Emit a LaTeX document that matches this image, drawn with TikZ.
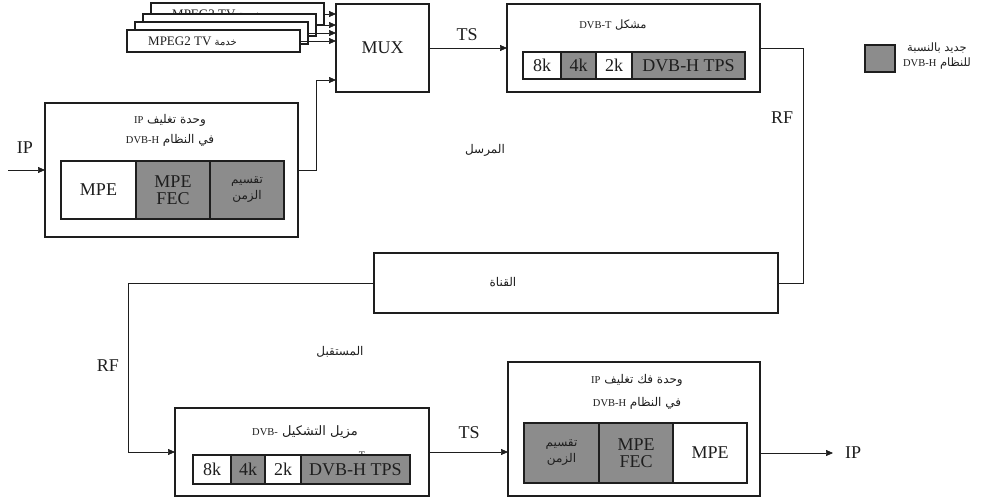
\documentclass[tikz,border=0pt]{standalone}
\usepackage{fontspec}
\setmainfont{Liberation Serif}
\newfontfamily\arabicfont[Script=Arabic]{DejaVu Sans}
\TeXXeTstate=1
\usetikzlibrary{arrows.meta,calc}
\definecolor{newgray}{HTML}{8C8C8C}
\definecolor{ink}{HTML}{1E1E1E}
\newcommand\mylat[1]{\beginL{\rmfamily\fontsize{10.5}{12}\selectfont #1}\endL}
\newcommand\mpegtxt{\beginR{\arabicfont\fontsize{10}{12}\selectfont خدمة}\ \beginL MPEG2 TV\endL\endR}
\begin{document}
\begin{tikzpicture}[x=1pt,y=-1pt,
  box/.style={draw=ink,line width=1.6pt,fill=white,inner sep=0pt,outer sep=0pt},
  cellw/.style={box,fill=white,font=\fontsize{18}{17}\selectfont,text=ink,align=center},
  cellg/.style={box,fill=newgray,font=\fontsize{18}{17}\selectfont,text=ink,align=center},
  wire/.style={draw=ink,line width=0.7pt},
  arr/.style={wire,-{Triangle[length=7pt,width=6pt]}},
  big/.style={font=\fontsize{18}{18}\selectfont,text=ink,inner sep=0pt},
  mpeg/.style={font=\fontsize{13}{13}\selectfont,text=ink,inner sep=0pt},
  ar/.style={font=\arabicfont\fontsize{12}{20}\selectfont,text=ink,align=center,inner sep=0pt},
  arc/.style={font=\arabicfont\fontsize{12}{16}\selectfont,align=center},
]
\useasboundingbox (0,0) rectangle (984,501);

% stacked MPEG2 TV service boxes (back to front)
\node[box,minimum width=173pt,minimum height=22pt] (b4) at (237.5,14) {};
\node[mpeg] (b4t) at (216.5,14) {\mpegtxt};
\node[box,minimum width=173pt,minimum height=22pt] (b3) at (229.5,25) {};
\node[box,minimum width=173pt,minimum height=22pt] (b2) at (221.5,33) {};
\node[box,minimum width=173pt,minimum height=22pt] (b1) at (213.5,41) {};
\node[mpeg] (b1t) at (192.5,41) {\mpegtxt};

% MUX
\node[box,minimum width=93pt,minimum height=88pt,big] (mux) at (382.5,48) {MUX};

% DVB-T modulator
\node[box,minimum width=253pt,minimum height=88pt] (mod) at (633.5,48) {};
\node[ar,font=\arabicfont\fontsize{11.5}{14}\selectfont] (modt) at (613,25) {\beginR مشكل \mylat{DVB-T}\endR};
\node[cellw,minimum width=38pt,minimum height=27pt] (m8) at (542,65.5) {8k};
\node[cellg,minimum width=35pt,minimum height=27pt] (m4) at (578.5,65.5) {4k};
\node[cellw,minimum width=36pt,minimum height=27pt] (m2) at (614,65.5) {2k};
\node[cellg,minimum width=113pt,minimum height=27pt] (mtps) at (688.5,65.5) {DVB-H TPS};

% IP encapsulator
\node[box,minimum width=253pt,minimum height=134pt] (enc) at (171.5,170) {};
\node[ar] (enct) at (170,130) {\beginR وحدة تغليف \mylat{IP}\endR\\\beginR في النظام \mylat{DVB-H}\endR};
\node[cellw,minimum width=75pt,minimum height=58pt] (e1) at (98.5,190) {MPE};
\node[cellg,minimum width=74pt,minimum height=58pt] (e2) at (173,190) {MPE\\FEC};
\node[cellg,minimum width=74pt,minimum height=58pt,arc] (e3) at (247,190) {\beginR تقسيم\endR\\\beginR الزمن\endR};

% channel
\node[box,minimum width=404pt,minimum height=60pt] (chan) at (576,283) {};
\node[ar] (chant) at (503,282) {\beginR القناة\endR};

% DVB-T demodulator
\node[box,minimum width=254pt,minimum height=88pt] (dem) at (302,452) {};
\node[ar,font=\arabicfont\fontsize{13}{15}\selectfont] (demt) at (305,432) {\beginR مزيل التشكيل \mylat{DVB-}\endR};
\node[font=\fontsize{10}{10}\selectfont,text=ink,inner sep=0pt] (demT) at (362,455) {T};
\node[cellw,minimum width=38pt,minimum height=29pt] (d8) at (212,469.5) {8k};
\node[cellg,minimum width=34pt,minimum height=29pt] (d4) at (248,469.5) {4k};
\node[cellw,minimum width=36pt,minimum height=29pt] (d2) at (283,469.5) {2k};
\node[cellg,minimum width=109pt,minimum height=29pt] (dtps) at (355.5,469.5) {DVB-H TPS};

% IP decapsulator
\node[box,minimum width=252pt,minimum height=134pt] (dec) at (634,429) {};
\node[ar,font=\arabicfont\fontsize{12}{23}\selectfont] (dect) at (637,392) {\beginR وحدة فك تغليف \mylat{IP}\endR\\\beginR في النظام \mylat{DVB-H}\endR};
\node[cellg,minimum width=75pt,minimum height=60pt,arc] (c1) at (561.5,453) {\beginR تقسيم\endR\\\beginR الزمن\endR};
\node[cellg,minimum width=74pt,minimum height=60pt] (c2) at (636,453) {MPE\\FEC};
\node[cellw,minimum width=74pt,minimum height=60pt] (c3) at (710,453) {MPE};

% legend
\node[box,fill=newgray,minimum width=30pt,minimum height=27pt] (leg) at (880,58.5) {};
\node[ar,font=\arabicfont\fontsize{11.5}{15}\selectfont] (legt) at (937,56) {\beginR جديد بالنسبة\endR\\\beginR للنظام \mylat{DVB-H}\endR};

% section labels
\node[ar] (tx) at (485,150) {\beginR المرسل\endR};
\node[ar] (rx) at (340,352) {\beginR المستقبل\endR};

% connectors
\coordinate (ipin) at (8,170);
\coordinate (ipout) at (833,453);
\draw[arr] (b4.east) -- (b4.east -| mux.west);
\draw[arr] (b3.east) -- (b3.east -| mux.west);
\draw[arr] (b2.east) -- (b2.east -| mux.west);
\draw[arr] (b1.east) -- (b1.east -| mux.west);
\draw[arr] (ipin) -- (enc.west);
\node[big] (iplab) at (25,148) {IP};
\draw[arr] (enc.east) -- ++(18,0) |- ($(mux.west)+(0,32)$);
\draw[arr] (mux.east) -- (mod.west);
\node[big] (ts1) at (467,35) {TS};
\draw[wire] (mod.east) -- ++(43,0) |- (chan.east);
\node[big] (rf1) at (782,118) {RF};
\draw[arr] (chan.west) -- ++(-246,0) |- (dem.west);
\node[big] (rf2) at (108,366) {RF};
\draw[arr] (dem.east) -- (dem.east -| dec.west);
\node[big] (ts2) at (469,433) {TS};
\draw[arr] (dec.east |- ipout) -- (ipout);
\node[big] (iplab2) at (853,453) {IP};
\end{tikzpicture}
\end{document}
